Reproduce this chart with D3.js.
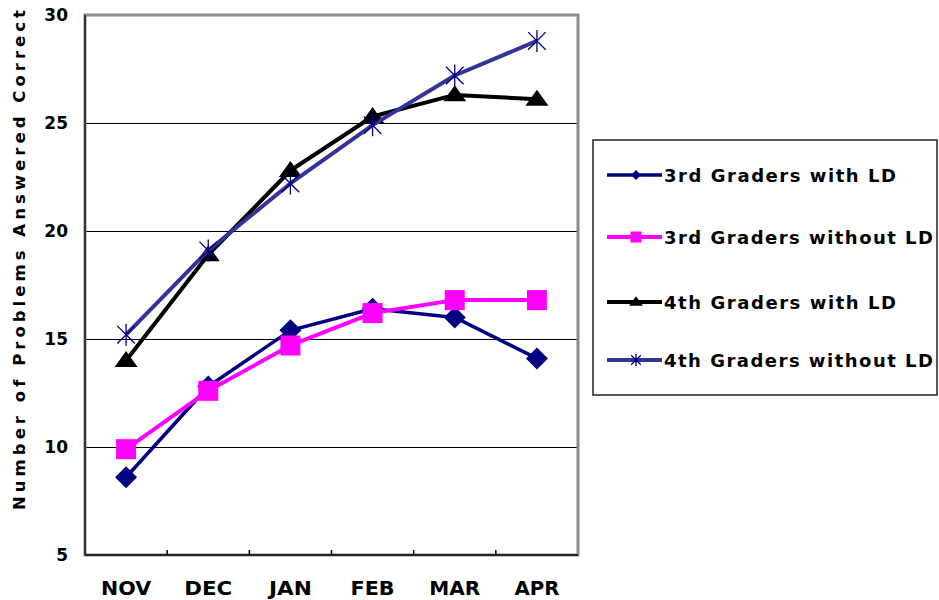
<!DOCTYPE html>
<html><head><meta charset="utf-8">
<script src="https://cdn.jsdelivr.net/npm/d3@7"></script>
<style>body{margin:0;background:#fff}svg{display:block}text{font-family:"DejaVu Sans","Liberation Sans",Arial,sans-serif;font-weight:bold;fill:#000}</style>
</head><body><svg id="c" width="939" height="600"></svg>
<script>
const months = ["NOV","DEC","JAN","FEB","MAR","APR"];
const yTicks = [5,10,15,20,25,30];
const gridValues = [10,15,20,25];
const seriesNames = ["3rd Graders with LD","3rd Graders without LD","4th Graders with LD","4th Graders without LD"];
const thirdWithLD = [8.6,12.8,15.4,16.4,16.0,14.1];
const thirdWithoutLD = [9.9,12.6,14.7,16.2,16.8,16.8];
const fourthWithLD = [14.0,18.9,22.8,25.3,26.3,26.1];
const fourthWithoutLD = [15.2,19.1,22.2,24.9,27.2,28.8];
const yTitle = "Number of Problems Answered Correct";

const series = [
  {name:seriesNames[0], values:thirdWithLD, color:"#000080", width:3.5, marker:"diamond", mcolor:"#000080"},
  {name:seriesNames[1], values:thirdWithoutLD, color:"#ff00ff", width:4, marker:"square", mcolor:"#ff00ff"},
  {name:seriesNames[2], values:fourthWithLD, color:"#000000", width:4, marker:"triangle", mcolor:"#000000"},
  {name:seriesNames[3], values:fourthWithoutLD, color:"#333399", width:4, marker:"star", mcolor:"#000080"}
];

const svg = d3.select("#c");
const L=85, R=578, T=15, B=555;
const x = d3.scaleBand().domain(months).range([L,R]).padding(0);
const y = d3.scaleLinear().domain([5,30]).range([B,T]);

// gridlines
svg.append("g").selectAll("line").data(gridValues).join("line")
  .attr("x1",L).attr("x2",R).attr("y1",d=>Math.round(y(d))+0.5).attr("y2",d=>Math.round(y(d))+0.5)
  .attr("stroke","#000").attr("stroke-width",1.5).attr("shape-rendering","crispEdges");

// frame
svg.append("rect").attr("x",L).attr("y",T).attr("width",R-L).attr("height",B-T)
  .attr("fill","none").attr("stroke","#8c8c8c").attr("stroke-width",3);
svg.append("line").attr("x1",L).attr("x2",L).attr("y1",T).attr("y2",B).attr("stroke","#333").attr("stroke-width",2);
svg.append("line").attr("x1",L).attr("x2",R).attr("y1",B).attr("y2",B).attr("stroke","#222").attr("stroke-width",2);

// x ticks (inner, at band boundaries)
svg.append("g").selectAll("line").data(months.slice(1)).join("line")
  .attr("x1",d=>x(d)).attr("x2",d=>x(d)).attr("y1",B).attr("y2",B-5)
  .attr("stroke","#000").attr("stroke-width",1.5);

// x labels
const xLabelW = {NOV:50,DEC:48,JAN:43,FEB:44,MAR:51,APR:45};
svg.append("g").selectAll("text").data(months).join("text")
  .attr("x",d=>x(d)+x.bandwidth()/2 - xLabelW[d]/2).attr("y",595)
  .attr("font-size",19).attr("textLength",d=>xLabelW[d]).attr("lengthAdjust","spacingAndGlyphs")
  .text(d=>d);

// y labels
svg.append("g").selectAll("text").data(yTicks).join("text")
  .attr("x",68).attr("y",d=>y(d)+6).attr("text-anchor","end")
  .attr("font-size",17).text(d=>d);

// y title
svg.append("text").attr("transform","translate(25,510) rotate(-90)")
  .attr("font-size",16.5).attr("textLength",500).attr("lengthAdjust","spacing").text(yTitle);

function drawMarker(g, type, cx, cy, s, col){
  if(type==="diamond"){
    g.append("path").attr("d",`M${cx},${cy-s}L${cx+s},${cy}L${cx},${cy+s}L${cx-s},${cy}Z`).attr("fill",col);
  } else if(type==="square"){
    g.append("rect").attr("x",cx-s).attr("y",cy-s).attr("width",2*s).attr("height",2*s).attr("fill",col);
  } else if(type==="triangle"){
    const h=s*1.6;
    g.append("path").attr("d",`M${cx},${cy-h*0.6}L${cx+s*1.15},${cy+h*0.4}L${cx-s*1.15},${cy+h*0.4}Z`).attr("fill",col);
  } else if(type==="star"){
    const d=s*0.8;
    g.append("path").attr("d",`M${cx-d},${cy-d}L${cx+d},${cy+d}M${cx+d},${cy-d}L${cx-d},${cy+d}M${cx},${cy-s}L${cx},${cy+s}`)
      .attr("stroke",col).attr("stroke-width",1.3).attr("fill","none");
  }
}

const markerSize = {diamond:11, square:10, triangle:10, star:11};
const line = d3.line().x((d,i)=>x(months[i])+x.bandwidth()/2).y(d=>y(d));
series.forEach(s=>{
  const g = svg.append("g");
  g.append("path").datum(s.values).attr("d",line).attr("fill","none")
    .attr("stroke",s.color).attr("stroke-width",s.width).attr("stroke-linejoin","round");
  s.values.forEach((v,i)=>drawMarker(g,s.marker,x(months[i])+x.bandwidth()/2,y(v),markerSize[s.marker],s.mcolor));
});

// legend
const lg = svg.append("g");
lg.append("rect").attr("x",593).attr("y",140).attr("width",344).attr("height",255)
  .attr("fill","#fff").attr("stroke","#222").attr("stroke-width",1.5);
const legY = [175,237,302,360];
const legW = [232,269,232,269];
const legMarker = {diamond:5, square:5.5, triangle:6, star:6};
series.forEach((s,i)=>{
  lg.append("line").attr("x1",607).attr("x2",662).attr("y1",legY[i]).attr("y2",legY[i])
    .attr("stroke",s.color).attr("stroke-width",s.width);
  drawMarker(lg,s.marker,636,legY[i],legMarker[s.marker],s.mcolor);
  lg.append("text").attr("x",664).attr("y",legY[i]+7).attr("font-size",18)
    .attr("textLength",legW[i]).attr("lengthAdjust","spacing").text(s.name);
});
</script></body></html>
